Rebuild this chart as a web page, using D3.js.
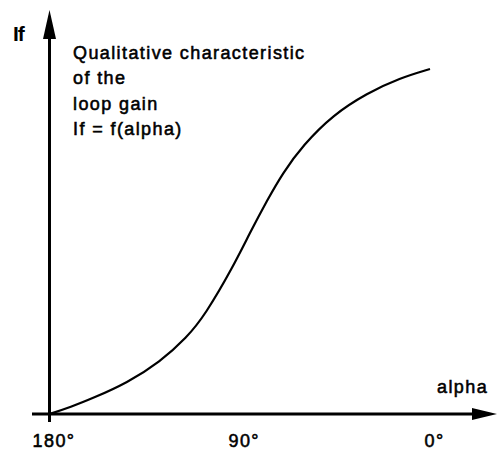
<!DOCTYPE html>
<html>
<head>
<meta charset="utf-8">
<script src="https://cdn.jsdelivr.net/npm/d3@7"></script>
<style>
  html, body { margin: 0; padding: 0; background: #fff; }
  svg { display: block; }
  text { font-family: "Liberation Sans", Arial, Helvetica, sans-serif; fill: #000; }
</style>
</head>
<body>
<svg id="chart" width="497" height="450"></svg>
<script>
// Phase angle alpha (degrees) and the qualitative loop gain If = f(alpha)
const alphaDeg = [180, 170, 159.4, 143.3, 127.7, 115, 106.4, 93.2, 85.2, 77, 69.6, 60.1, 45.9, 29.8, 14.2, 0];
const loopGain = [0, 0.02, 0.046, 0.09, 0.151, 0.222, 0.287, 0.426, 0.525, 0.62, 0.699, 0.779, 0.867, 0.93, 0.974, 1.0];

// Axis tick labels
const tickValues = [180, 90, 0];
const tickLabels = ["180°", "90°", "0°"];

// Annotation lines
const noteLines = ["Qualitative characteristic", "of the", "loop gain", "If = f(alpha)"];

const svg = d3.select("#chart");

const x = d3.scaleLinear().domain([180, 0]).range([49.5, 430]);
const y = d3.scaleLinear().domain([0, 1]).range([414, 69]);

// Shared text look: slightly heavy sans with open tracking
function heavyText(sel, spacing) {
  return sel
    .style("font-size", "18px")
    .style("letter-spacing", spacing + "px")
    .attr("stroke", "#000")
    .attr("stroke-width", 0.55)
    .attr("fill", "#000");
}

// Axes lines with arrowheads
svg.append("line")
  .attr("x1", x(180)).attr("x2", x(180))
  .attr("y1", 422).attr("y2", 30)
  .attr("stroke", "#000").attr("stroke-width", 3);
svg.append("path")
  .attr("d", `M${x(180)},10 L${x(180) + 6.5},39 L${x(180) - 6.5},39 Z`)
  .attr("fill", "#000");

svg.append("line")
  .attr("x1", 32).attr("x2", 478)
  .attr("y1", y(0)).attr("y2", y(0))
  .attr("stroke", "#000").attr("stroke-width", 3);
svg.append("path")
  .attr("d", `M497,${y(0)} L472,${y(0) - 6} L472,${y(0) + 6} Z`)
  .attr("fill", "#000");

// Tick labels via a bottom axis (no domain, no tick marks)
const xAxis = d3.axisBottom(x)
  .tickValues(tickValues)
  .tickSize(0)
  .tickFormat((d, i) => tickLabels[i]);
const gx = svg.append("g")
  .attr("transform", `translate(4,${y(0)})`)
  .call(xAxis);
gx.select(".domain").remove();
gx.selectAll("text")
  .attr("y", 33).attr("dy", null)
  .style("font-family", "'Liberation Sans', Arial, sans-serif")
  .call(heavyText, 1.4);

// Axis titles
svg.append("text")
  .attr("x", 13).attr("y", 41)
  .style("font-size", "21px").style("font-weight", "bold")
  .style("letter-spacing", "-1px")
  .text("If");
svg.append("text")
  .attr("x", 437).attr("y", 393)
  .call(heavyText, 1.4)
  .text("alpha");

// Annotation
svg.append("g").selectAll("text")
  .data(noteLines)
  .join("text")
  .attr("x", 73)
  .attr("y", (d, i) => 59 + i * 25.3)
  .call(heavyText, 1.4)
  .text(d => d);

// Loop gain curve (smoothed B-spline through the sampled values)
const pts = alphaDeg.map((a, i) => [a, loopGain[i]]);
svg.append("path")
  .datum(pts)
  .attr("fill", "none")
  .attr("stroke", "#000")
  .attr("stroke-width", 2.2)
  .attr("d", d3.line().x(d => x(d[0])).y(d => y(d[1])).curve(d3.curveBasis));
</script>
</body>
</html>
